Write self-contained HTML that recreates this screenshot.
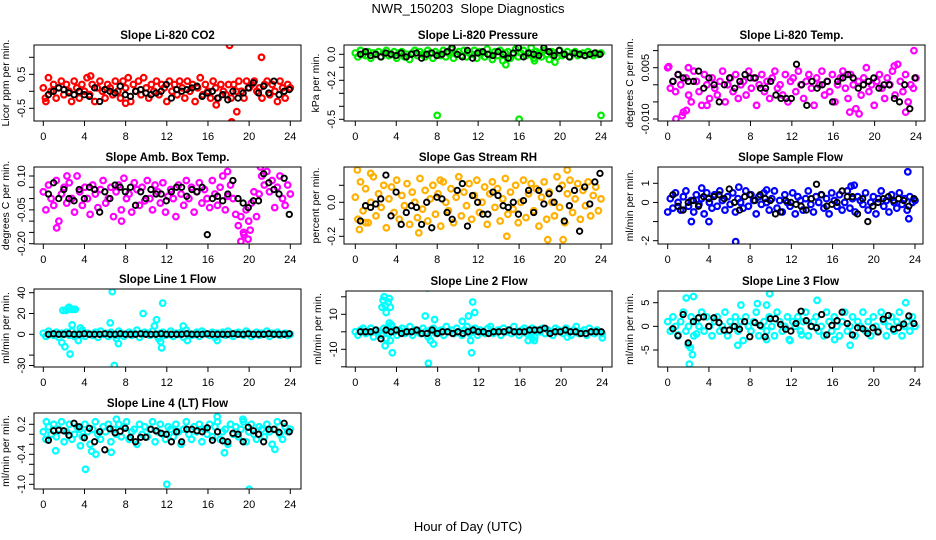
<!DOCTYPE html>
<html><head><meta charset="utf-8"><title>NWR_150203 Slope Diagnostics</title>
<style>
html,body{margin:0;padding:0;background:#fff;}
svg{display:block;font-family:"Liberation Sans",sans-serif;}
</style></head>
<body>
<svg id="chart" width="936" height="540" viewBox="0 0 936 540" xmlns="http://www.w3.org/2000/svg">
<rect x="0" y="0" width="936" height="540" fill="#fff"/>
<text x="468" y="13" text-anchor="middle" font-size="13">NWR_150203&#160; Slope Diagnostics</text>
<text x="468" y="531" text-anchor="middle" font-size="13">Hour of Day (UTC)</text>
</svg>
<script>
// ---------- data ----------
const xTickValues = [0,4,8,12,16,20,24];
const xTickLabels = ["0","4","8","12","16","20","24"];

const co2Color = [0.1,-0.3,0.4,0.0,0.2,-0.2,0.1,0.3,-0.1,0.2,0.0,-0.3,0.3,0.1,-0.2,0.2,0.0,0.4,-0.1,0.2,-0.3,0.1,0.3,0.0,-0.2,0.2,0.1,-0.1,0.3,0.0,-0.2,0.3,0.1,0.4,-0.3,0.2,0.0,0.3,-0.1,0.4,0.1,-0.2,0.2,0.0,0.3,-0.1,0.2,0.1,-0.3,0.3,0.0,0.2,-0.1,0.3,0.1,-0.2,0.3,0.0,0.2,-0.3,0.1,0.4,-0.1,0.2,0.0,-0.2,0.3,0.1,-0.2,0.2,0.0,-0.1,0.2,-0.2,0.2,0.0,0.3,0.0,-0.2,0.3,0.1,0.2,0.3,0.0,0.1,-0.2,0.2,0.3,-0.1,0.2,0.0,-0.3,0.3,0.1,-0.2,0.2,0.1];
const co2ExtraHours = [18.1,21.2,18.3,18.8,16.8,0.2,4.6,8.0];
const co2ExtraValues = [1.35,1.0,-0.9,-0.6,-0.4,-0.2,0.45,-0.35];
const co2Black = [-0.1,0.0,0.1,0.05,-0.05,-0.1,0.0,-0.1,-0.15,0.1,-0.3,0.05,0.0,-0.05,0.15,-0.1,-0.15,0.0,0.05,-0.05,-0.1,-0.05,0.0,0.2,-0.2,0.05,0.0,0.05,0.1,0.15,-0.15,-0.05,0.0,-0.2,-0.1,-0.25,0.0,-0.2,-0.05,0.1,0.25,-0.05,0.15,-0.05,0.3,-0.1,0.0,0.05];

const presColor = [0.01,-0.02,0.03,0.0,-0.01,0.02,-0.03,0.01,0.0,0.02,-0.02,0.01,0.03,-0.01,0.0,0.02,-0.03,0.01,0.02,-0.02,0.0,-0.04,0.01,0.03,-0.01,0.02,0.0,-0.02,0.03,0.01,-0.03,0.02,0.0,-0.01,0.03,-0.02,0.01,0.04,-0.03,0.0,0.02,-0.01,0.03,-0.02,0.01,0.0,0.03,-0.03,0.02,0.01,-0.02,0.04,0.0,-0.04,0.02,-0.01,0.03,-0.05,0.01,0.02,-0.03,0.0,0.04,-0.02,0.01,0.03,-0.01,0.0,0.05,-0.03,0.02,0.01,-0.02,0.03,0.0,-0.04,0.02,0.01,-0.02,0.03,-0.01,0.0,0.02,-0.02,0.01,0.02,-0.01,0.0,0.01,-0.01,0.02,0.0,-0.01,0.01,0.0,0.01];
const presExtraHours = [8.0,16.0,24.0,14.7,17.5,19.5];
const presExtraValues = [-0.47,-0.5,-0.47,-0.08,-0.05,-0.06];
const presBlack = [0.0,0.02,-0.01,0.0,-0.02,0.01,0.0,-0.01,0.01,-0.02,0.0,0.01,-0.03,0.0,0.01,-0.01,0.0,0.02,0.05,0.0,-0.02,0.03,-0.03,0.01,0.02,0.0,-0.01,0.02,0.0,-0.03,0.01,0.05,-0.02,0.01,0.0,-0.01,0.05,0.02,-0.01,0.03,0.0,-0.02,0.01,0.0,-0.01,0.0,0.01,0.0];

// Li-820 temperature in units of 0.001 degC/min
const tempColor = [5,-1,1,-2,3,0,-8,2,-3,-5,4,1,-2,-6,3,0,-4,2,-1,-3,1,4,-5,0,2,-2,3,-4,0,1,-3,4,-1,2,-6,0,3,-2,1,-4,2,4,-1,0,-3,3,-5,1,2,-2,4,0,-4,1,3,-1,-6,2,0,4,-3,1,-2,3,-5,0,2,4,-1,-4,3,0,-7,1,-3,2,5,-2,0,-6,1,3,-1,-4,2,0,4,-3,6,1,-2,3,-5,0,-1,2];
const tempExtraHours = [0.1,0.8,1.4,1.8,17.6,18.5,23.0,23.8,3.8,2.0,21.9];
const tempExtraValues = [5.3,-10,-9,-7.5,-8,-8.5,-8,10,-6,5,5.5];
const tempBlack = [1,3,2,1,1,4,-1,2,0,-5,0,2,-1,1,3,2,2,-1,-1,1,-3,-4,-4,-4,6,0,-6,1,-1,0,1,-5,1,2,3,2,-1,0,1,2,-1,0,0,-4,-5,0,-7,2];

const ambColor = [0.03,-0.05,0.06,0.0,-0.03,0.08,-0.1,0.02,0.05,-0.02,0.07,0.0,-0.06,0.1,0.03,-0.03,0.05,0.0,-0.07,0.06,0.02,-0.04,0.04,0.08,-0.02,0.0,0.05,-0.08,0.03,0.06,-0.05,0.09,0.0,0.02,-0.06,0.07,0.04,-0.03,0.05,-0.01,0.08,0.0,-0.05,0.06,0.03,-0.02,0.07,-0.06,0.01,0.04,0.0,-0.08,0.06,0.02,-0.03,0.08,0.0,0.05,-0.06,0.03,0.07,-0.02,0.04,0.0,-0.04,0.08,0.02,-0.03,0.05,0.1,-0.05,0.01,0.06,0.0,-0.07,-0.12,-0.08,-0.15,-0.05,-0.1,-0.02,0.03,-0.08,0.02,0.1,0.06,0.12,0.03,0.08,-0.04,0.05,0.1,0.0,-0.03,0.06,0.02];
const ambExtraHours = [19.2,19.9,21.1,17.9,2.3,1.3,7.6,19.5,20.1];
const ambExtraValues = [-0.19,-0.18,0.14,0.12,0.1,-0.13,-0.1,-0.16,-0.14];
const ambBlack = [0.02,0.07,0.0,0.04,0.0,-0.01,0.04,0.0,0.05,0.04,-0.06,0.03,0.0,0.06,0.05,0.03,0.05,-0.03,0.03,0.0,0.04,0.02,0.02,-0.01,0.03,0.05,0.05,0.01,0.04,0.03,0.05,-0.16,0.0,0.01,-0.01,0.02,0.08,0.0,-0.02,-0.04,-0.01,-0.01,0.11,0.07,0.04,0.02,0.09,-0.07];

const rhColor = [0.03,-0.1,0.12,-0.05,0.08,-0.12,0.0,0.15,-0.08,0.05,-0.03,0.1,-0.15,0.02,0.09,-0.06,0.13,-0.1,0.04,-0.02,0.11,-0.13,0.06,0.0,-0.09,0.14,-0.04,0.07,-0.11,0.02,0.1,-0.07,0.05,-0.14,0.12,0.0,-0.05,0.08,-0.12,0.03,0.15,-0.08,0.06,-0.02,0.11,-0.1,0.04,0.13,-0.06,0.0,0.09,-0.13,0.05,0.12,-0.03,0.08,-0.11,0.02,0.14,-0.07,0.06,-0.04,0.1,-0.12,0.0,0.13,-0.09,0.05,0.11,-0.05,0.08,-0.14,0.03,0.12,-0.1,0.06,0.0,-0.08,0.15,-0.03,0.1,-0.12,0.05,0.13,-0.06,0.02,0.11,-0.1,0.07,-0.02,0.12,-0.08,0.04,0.09,-0.05,0.02];
const rhExtraHours = [0.2,0.4,1.0,14.8,18.8,20.3,20.7,6.2,1.5,8.3];
const rhExtraValues = [0.19,-0.16,-0.12,-0.2,-0.22,-0.22,0.19,-0.18,0.17,0.13];
const rhBlack = [-0.11,-0.02,-0.03,-0.01,0.02,0.16,-0.08,0.06,-0.13,-0.06,-0.02,-0.03,-0.13,0.0,-0.15,0.03,0.02,-0.06,-0.1,0.07,0.11,-0.14,0.04,0.0,-0.07,-0.07,0.06,0.04,-0.02,-0.03,0.0,-0.07,0.01,0.07,-0.06,0.07,-0.01,0.05,0.0,0.08,-0.11,-0.02,0.07,-0.17,0.09,-0.01,0.12,0.17];

const sampColor = [-0.5,0.2,-0.3,0.5,0.0,-0.4,0.3,0.6,-0.2,0.1,-0.5,0.4,-0.1,0.2,-0.6,0.5,0.0,-0.3,0.4,-0.2,0.6,0.1,-0.4,0.3,-0.1,0.5,-0.5,0.2,0.0,-0.3,0.6,-0.2,0.4,0.1,-0.6,0.3,-0.1,0.5,0.0,-0.4,0.2,0.6,-0.3,0.1,-0.5,0.4,0.0,-0.2,0.5,-0.6,0.3,0.1,-0.4,0.2,0.6,-0.1,-0.5,0.3,0.0,0.4,-0.3,0.2,-0.6,0.5,0.1,-0.2,0.4,-0.4,0.0,0.6,-0.3,0.2,-0.5,0.3,0.1,-0.1,0.5,-0.4,0.0,0.3,-0.6,0.2,0.6,-0.2,0.1,-0.5,0.4,0.0,-0.3,0.5,-0.1,0.2,-0.4,0.3,0.0,0.1];
const sampExtraHours = [6.6,23.3,2.3,4.0,3.3,17.8,6.9,9.6,18.1,23.4];
const sampExtraValues = [-2.05,1.6,-1.0,-1.0,0.75,0.85,0.8,0.65,0.9,-0.85];
const sampBlack = [0.4,-0.2,-0.4,0.0,0.1,-0.2,0.3,0.2,0.3,0.4,0.2,0.7,0.0,-0.4,0.3,0.4,0.1,0.4,0.2,0.1,-0.6,-0.5,0.1,0.0,-0.1,-0.2,-0.4,0.2,0.95,0.4,-0.2,-0.1,0.0,0.6,0.3,0.3,-0.6,0.2,-1.0,-0.2,0.0,0.2,0.3,0.1,0.2,0.1,-0.2,0.2];

const l1Color = [1,-2,3,0,-1,2,-3,1,0,2,-1,3,-2,0,1,4,-2,1,0,-1,2,-3,3,0,1,-2,2,0,-1,3,1,-2,0,2,-1,1,4,-3,0,2,1,-1,3,0,-2,1,2,-1,0,3,-2,1,0,2,-3,4,1,-1,0,2,-2,3,1,0,-1,2,-3,1,0,2,-1,3,0,-2,1,2,0,-1,3,1,-2,0,2,-1,1,0,3,-2,1,0,2,-1,0,1,-1,0];
const l1ExtraHours = [1.9,2.2,2.4,2.5,2.7,2.9,3.1,1.8,2.1,2.6,2.8,3.4,6.5,6.7,6.9,7.1,7.3,10.8,11.0,11.2,11.4,11.5,11.6,9.7,13.6,14.0,16.9,3.6];
const l1ExtraValues = [23,23,25,26,24,24,24,-8,-12,-19,9,-6,11,41,-30,-4,-9,8,14,-4,-7,-13,30,20,8,-6,-6,6];
const l1Black = [0,0.5,0,0,0.5,0,0,0.5,0,0,0,0.5,0,0,0.5,0,0,0,0.5,0,0,0,0.5,0,0,0,0,0.5,0,0,0,0.5,0,0,0,0,0.5,0,0,0.5,0,0,0,0.5,0,0,0,0.5];

const l2Color = [0,-2,1,2,-1,0,2,-3,1,0,-2,2,1,-1,3,0,-2,1,2,-1,0,3,-2,1,0,-1,2,0,-3,1,2,-1,0,1,-2,3,0,1,-1,2,0,-2,1,3,-1,0,2,-2,1,0,-1,2,3,-1,0,1,-2,2,0,1,-1,3,0,-2,1,2,-1,0,2,-3,1,0,2,-1,1,0,-2,2,1,0,-1,2,0,-2,1,3,-1,0,1,-2,2,0,-1,1,0,-1];
const l2ExtraHours = [2.6,2.7,2.8,2.9,3.0,3.2,3.3,3.4,3.3,3.4,2.9,3.0,3.6,3.5,6.8,7.0,7.1,7.3,7.6,7.7,11.0,11.2,11.3,11.4,11.6,10.4,16.8,17.2,17.4,20.6,24.0];
const l2ExtraValues = [14,18,20,15,11,17,19,14,5,-5,-8,-4,-12,4,9,25,-18,-5,-7,7,9,-5,-12,17,11,6,-5,-4,-5,-3,-3.5];
const l2Black = [0,0,0,1,-4,1,0,1,-1,0,0,1,-1,-1,1,-1,0,0,-1,0,-1,0,1,0,0,-1,0,0,0,1,0,0,0,1,1,1,2,-1,0,0,1,0,0,-1,-1,0,0,0];

const l3Color = [1,-1,2,0,-2,1,3,-1,0,2,-2,1,0,3,-1,2,0,-2,1,2,-1,0,3,-2,1,0,2,-1,1,-3,2,0,-1,1,3,-2,0,1,-1,2,0,-2,3,1,-1,0,2,-3,1,0,2,-1,1,3,-2,0,1,2,-1,0,-2,3,1,-1,2,0,-2,1,3,-1,0,2,-2,1,0,3,-1,1,-2,2,0,-1,3,1,-2,0,2,-1,1,3,-2,0,1,-1,2,0];
const l3ExtraHours = [1.8,2.5,2.0,2.2,2.4,2.1,8.7,9.6,9.9,14.5,17.7,23.1,6.8,7.1,1.0,2.8,9.6,11.8,13.0,16.2];
const l3ExtraValues = [6,6.3,-4,-4.5,-6,-8,4.8,4.5,6.9,5.5,-4,5,-4,4.5,-1.8,-1.6,-2.8,-2.8,-1.8,-2.8];
const l3Black = [-0.5,-2,2.5,-3.5,1,1.8,2,0,1.8,0.8,-0.8,-0.8,0,-0.6,1,-2.2,0.8,0.2,-2.2,1.6,1.6,0.4,-0.6,-1,0.6,3.2,1.2,0,-0.3,2.5,-1.8,0.2,1.2,3,0.6,-1.8,-0.3,-0.5,-1.5,-0.3,-1.2,1.5,2.3,-0.6,-0.3,0.5,2.2,0.6];

const l4Color = [0.05,-0.1,0.15,0.0,0.2,-0.05,0.1,0.25,-0.15,0.05,0.2,-0.1,0.0,0.15,0.1,-0.05,0.2,0.05,-0.2,0.1,0.25,0.0,-0.1,0.15,0.05,0.2,-0.15,0.1,0.0,0.2,-0.05,0.15,0.25,-0.1,0.05,0.1,-0.2,0.2,0.0,0.15,-0.05,0.1,0.25,-0.15,0.05,0.2,0.0,-0.1,0.15,0.1,-0.05,0.2,0.05,-0.2,0.1,0.25,0.0,-0.1,0.15,0.05,0.2,-0.15,0.1,0.0,0.2,-0.05,0.15,0.25,-0.1,0.05,0.1,-0.2,0.2,0.0,0.15,-0.05,0.1,0.25,-0.15,0.05,0.2,0.0,-0.1,0.15,0.1,-0.05,0.2,0.05,-0.2,0.1,0.25,0.0,-0.1,0.15,0.05,0.1];
const l4ExtraHours = [4.1,12.0,20.0,1.2,4.7,5.1,17.6,3.6,6.6,16.9,7.1,22.5,0.3,19.4];
const l4ExtraValues = [-0.7,-1.0,-1.1,-0.33,-0.34,-0.4,-0.37,-0.23,-0.36,0.35,0.3,-0.3,0.25,0.3];
const l4Black = [-0.12,0.07,0.08,0.07,-0.02,0.22,0.15,-0.07,0.12,-0.15,0.05,-0.31,0.11,0.03,0.06,0.12,-0.06,-0.15,-0.06,-0.06,0.1,0.07,0.02,0.0,-0.15,0.05,-0.15,0.1,0.1,0.07,0.05,0.13,-0.12,0.05,-0.13,-0.15,0.02,0.0,-0.15,0.14,0.07,0.0,-0.15,0.1,0.1,0.04,0.22,0.05];

// ---------- layout ----------
const panels = [
 {name:"co2", title:"Slope Li-820 CO2", ylab:"Licor ppm per min.", color:"#ff0000", box:[34,45,301,121], x0:43.3, x24:290.3, yA:[0.5,74.3], yB:[-0.5,108.3],
  col:co2Color, exH:co2ExtraHours, exV:co2ExtraValues, blk:co2Black, ticks:[1,0.5,0,-0.5], tickLab:["","0.5","","-0.5"]},
 {name:"pressure", title:"Slope Li-820 Pressure", ylab:"kPa per min.", color:"#00ee00", box:[344,45,612,121], x0:355.3, x24:601, yA:[0,54.3], yB:[-0.5,119.3],
  col:presColor, exH:presExtraHours, exV:presExtraValues, blk:presBlack, ticks:[0,-0.1,-0.2,-0.3,-0.4,-0.5], tickLab:["0.0","","-0.2","","","-0.5"]},
 {name:"li820-temp", title:"Slope Li-820 Temp.", ylab:"degrees C per min.", color:"#ff00ff", box:[658,45,925,121], x0:667.7, x24:916, yA:[5,67.7], yB:[-10,119],
  col:tempColor, exH:tempExtraHours, exV:tempExtraValues, blk:tempBlack, ticks:[10,5,0,-5,-10], tickLab:["","0.005","","","-0.010"]},
 {name:"amb-box-temp", title:"Slope Amb. Box Temp.", ylab:"degrees C per min.", color:"#ff00ff", box:[34,167,301,244], x0:43.3, x24:290.3, yA:[0.1,176], yB:[-0.2,243.7],
  col:ambColor, exH:ambExtraHours, exV:ambExtraValues, blk:ambBlack, ticks:[0.1,0.05,0,-0.05,-0.1,-0.15,-0.2], tickLab:["0.10","","","-0.05","","","-0.20"]},
 {name:"gas-stream-rh", title:"Slope Gas Stream RH", ylab:"percent per min.", color:"#ffb000", box:[344,167,612,244], x0:355.3, x24:601, yA:[0,202.3], yB:[-0.2,236.3],
  col:rhColor, exH:rhExtraHours, exV:rhExtraValues, blk:rhBlack, ticks:[0.1,0,-0.1,-0.2], tickLab:["","0.0","","-0.2"]},
 {name:"sample-flow", title:"Slope Sample Flow", ylab:"ml/min per min.", color:"#0000ff", box:[658,167,923,244], x0:667.7, x24:915, yA:[1,183.3], yB:[-2,240.7],
  col:sampColor, exH:sampExtraHours, exV:sampExtraValues, blk:sampBlack, ticks:[1,0,-1,-2], tickLab:["1","0","","-2"]},
 {name:"line1-flow", title:"Slope Line 1 Flow", ylab:"ml/min per min.", color:"#00ffff", box:[34,289,301,367], x0:43.3, x24:290.3, yA:[40,292.7], yB:[0,334.3],
  col:l1Color, exH:l1ExtraHours, exV:l1ExtraValues, blk:l1Black, ticks:[40,20,0,-20,-30], tickLab:["40","20","0","","-30"]},
 {name:"line2-flow", title:"Slope Line 2 Flow", ylab:"ml/min per min.", color:"#00ffff", box:[346,291,612,367], x0:355.3, x24:602.3, yA:[10,314.3], yB:[-10,349.3],
  col:l2Color, exH:l2ExtraHours, exV:l2ExtraValues, blk:l2Black, ticks:[20,10,0,-10,-20], tickLab:["","10","","-10",""]},
 {name:"line3-flow", title:"Slope Line 3 Flow", ylab:"ml/min per min.", color:"#00ffff", box:[658,291,923,367], x0:667.7, x24:915, yA:[5,302.7], yB:[-5,350],
  col:l3Color, exH:l3ExtraHours, exV:l3ExtraValues, blk:l3Black, ticks:[5,0,-5], tickLab:["5","0","-5"]},
 {name:"line4-lt-flow", title:"Slope Line 4 (LT) Flow", ylab:"ml/min per min.", color:"#00ffff", box:[34,413,301,489], x0:43.3, x24:290.3, yA:[0.2,424.3], yB:[-1.0,484.3],
  col:l4Color, exH:l4ExtraHours, exV:l4ExtraValues, blk:l4Black, ticks:[0.2,0,-0.2,-0.4,-0.6,-0.8,-1.0], tickLab:["0.2","","","-0.4","","","-1.0"]}
];

const NS = "http://www.w3.org/2000/svg";
const svg = document.getElementById("chart");
function mk(tag, attrs, parent){ const e=document.createElementNS(NS,tag); for(const k in attrs) e.setAttribute(k,attrs[k]); (parent||svg).appendChild(e); return e; }

panels.forEach(p=>{
  const [L,T,R,B]=p.box;
  const xs = h => p.x0 + (p.x24-p.x0)*h/24;
  const ys = v => p.yA[1] + (v-p.yA[0])*(p.yB[1]-p.yA[1])/(p.yB[0]-p.yA[0]);
  const g = mk("g",{});
  
  
  const clipId = "clip-"+p.name;
  const cp = mk("clipPath",{id:clipId},g); mk("rect",{x:L,y:T,width:R-L,height:B-T},cp);

  const title = mk("text",{x:(L+R)/2,y:T-6,"text-anchor":"middle","font-size":"11.5","font-weight":"bold"},g);
  title.textContent=p.title;
  
  

  const yl = mk("text",{transform:`translate(${L-25},${(T+B)/2}) rotate(-90)`,"text-anchor":"middle","font-size":"10.5"},g);
  yl.textContent=p.ylab;
  
  

  const pts = mk("g",{"clip-path":`url(#${clipId})`,fill:"none"},g);
  
  
  const n=p.col.length;
  p.col.forEach((v,i)=>{
    const c=mk("circle",{cx:xs(24*i/(n-1)),cy:ys(v),r:2.8,stroke:p.color,"stroke-width":"2.2"},pts);
    
    
  });
  p.exH.forEach((h,i)=>{
    const c=mk("circle",{cx:xs(h),cy:ys(p.exV[i]),r:2.8,stroke:p.color,"stroke-width":"2.2"},pts);
    
    
  });
  const m=p.blk.length;
  p.blk.forEach((v,i)=>{
    const c=mk("circle",{cx:xs(0.5+23.4*i/(m-1)),cy:ys(v),r:2.7,stroke:"#000","stroke-width":"1.9"},pts);
    
    
  });

  const box=mk("rect",{x:L,y:T,width:R-L,height:B-T,fill:"none",stroke:"#000","stroke-width":"1"},g);
  
  

  xTickValues.forEach((h,i)=>{
    const x=xs(h);
    mk("line",{x1:x,y1:B,x2:x,y2:B+5,stroke:"#000"},g);
    const t=mk("text",{x:x,y:B+19,"text-anchor":"middle","font-size":"11"},g);
    t.textContent=xTickLabels[i];
    
    
  });
  p.ticks.forEach((v,i)=>{
    const y=ys(v);
    if(y<T-3||y>B+3) return;
    mk("line",{x1:L-5,y1:y,x2:L,y2:y,stroke:"#000"},g);
    if(p.tickLab[i]){
      const t=mk("text",{transform:`translate(${L-9},${y}) rotate(-90)`,"text-anchor":"middle","font-size":"11"},g);
      t.textContent=p.tickLab[i];
      
      
    }
  });
});
</script>
</body></html>
